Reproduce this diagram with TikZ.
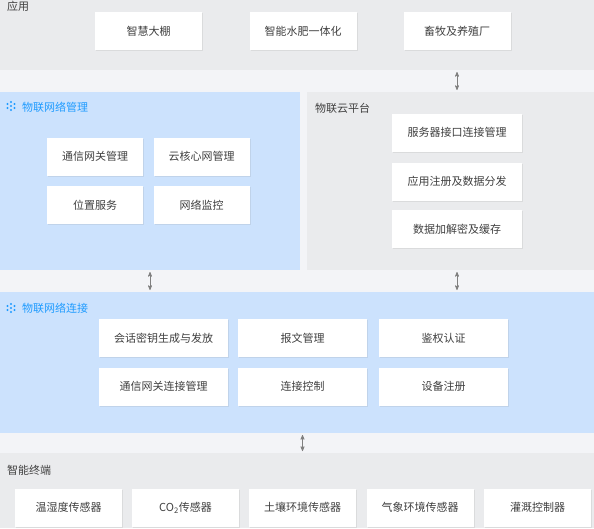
\documentclass[tikz,border=0pt]{standalone}
\usepackage{fontspec}
\setmainfont{Noto Sans CJK SC}
\usetikzlibrary{arrows,shadows}

\definecolor{bandgrey}{HTML}{EAEBED}
\definecolor{gapgrey}{HTML}{F3F4F7}
\definecolor{panelblue}{HTML}{CCE2FD}
\definecolor{titleblue}{HTML}{1E9BFF}
\definecolor{textgrey}{HTML}{404040}
\definecolor{arrowgrey}{HTML}{808080}

\tikzset{
	panel/.style={anchor=north west, inner sep=0pt, outer sep=0pt},
	box/.style={fill=white, minimum width=#1, minimum height=38pt, inner sep=0pt,
		font=\fontsize{11}{13}\selectfont, text=textgrey,
		drop shadow={shadow xshift=1pt, shadow yshift=-1pt, opacity=0.15}},
	title/.style={anchor=west, inner sep=0pt, font=\fontsize{11}{13}\selectfont, text=textgrey},
	link/.style={<->, >=stealth', arrowgrey, line width=0.7pt, shorten >=2pt, shorten <=2pt},
}

\begin{document}
\begin{tikzpicture}[x=1pt,y=-1pt]
	\useasboundingbox (0,0) rectangle (594,528);
	\fill[gapgrey] (0,0) rectangle (594,528);
	
	% Layers
	\node[panel, fill=bandgrey, minimum width=594pt, minimum height=70pt] (app) at (0,0) {};
	\node[panel, fill=panelblue, minimum width=300pt, minimum height=178pt] (mgmt) at (0,92) {};
	\node[panel, fill=bandgrey, minimum width=287pt, minimum height=178pt] (cloud) at (307,92) {};
	\node[panel, fill=panelblue, minimum width=594pt, minimum height=141pt] (conn) at (0,292) {};
	\node[panel, fill=bandgrey, minimum width=594pt, minimum height=75pt] (term) at (0,453) {};
	
	% Layer titles
	\node[title] (applbl) at (7,6.5) {应用};
	\node[title, text=titleblue] (mgmtlbl) at (22,107) {物联网络管理};
	\node[title] (cloudlbl) at (315,108) {物联云平台};
	\node[title, text=titleblue] (connlbl) at (22,308) {物联网络连接};
	\node[title] (termlbl) at (7,470) {智能终端};
	
	% Icons
	\foreach \y in {106,308}
	\foreach \dx/\dy in {0/-4,0/0,0/4,-3.5/-2,-3.5/2,3.5/-2,3.5/2}
	\fill[titleblue] (11+\dx,\y+\dy) circle (1.1pt);
	
	% Application
	\node[box=107pt] (shed) at (148.5,31) {智慧大棚};
	\node[box=107pt] (fert) at (303,31) {智能水肥一体化};
	\node[box=107pt] (farm) at (457,31) {畜牧及养殖厂};
	
	% Network management
	\node[box=96pt] (gwmgmt) at (95,156.5) {通信网关管理};
	\node[box=96pt] (coremgmt) at (201.5,156.5) {云核心网管理};
	\node[box=96pt] (locsvc) at (95,205) {位置服务};
	\node[box=96pt] (netmon) at (201.5,205) {网络监控};
	
	% Cloud platform
	\node[box=130pt] (srvif) at (457,132.5) {服务器接口连接管理};
	\node[box=130pt] (appreg) at (457,181.5) {应用注册及数据分发};
	\node[box=130pt] (crypt) at (457,229) {数据加解密及缓存};
	
	% Network connection
	\node[box=129pt] (keygen) at (163.5,338) {会话密钥生成与发放};
	\node[box=129pt] (msgmgmt) at (302.5,338) {报文管理};
	\node[box=129pt] (auth) at (443.5,338) {鉴权认证};
	\node[box=129pt] (gwconn) at (163.5,386.5) {通信网关连接管理};
	\node[box=129pt] (connctl) at (302.5,386.5) {连接控制};
	\node[box=129pt] (devreg) at (443.5,386.5) {设备注册};
	
	% Terminals
	\node[box=107pt] (humid) at (68.5,507.5) {温湿度传感器};
	\node[box=107pt] (cotwo) at (185.5,507.5) {CO\textsubscript{2}传感器};
	\node[box=107pt] (soil) at (302.5,507.5) {土壤环境传感器};
	\node[box=107pt] (weather) at (420,507.5) {气象环境传感器};
	\node[box=107pt] (irrig) at (537.5,507.5) {灌溉控制器};
	
	% Links between layers
	\draw[link] (app.south -| farm) -- (cloud.north -| farm);
	\draw[link] (mgmt.south) -- (conn.north -| mgmt.south);
	\draw[link] (cloud.south -| farm) -- (conn.north -| farm);
	\draw[link] (conn.south -| soil) -- (term.north -| soil);
	
\end{tikzpicture}
\end{document}
